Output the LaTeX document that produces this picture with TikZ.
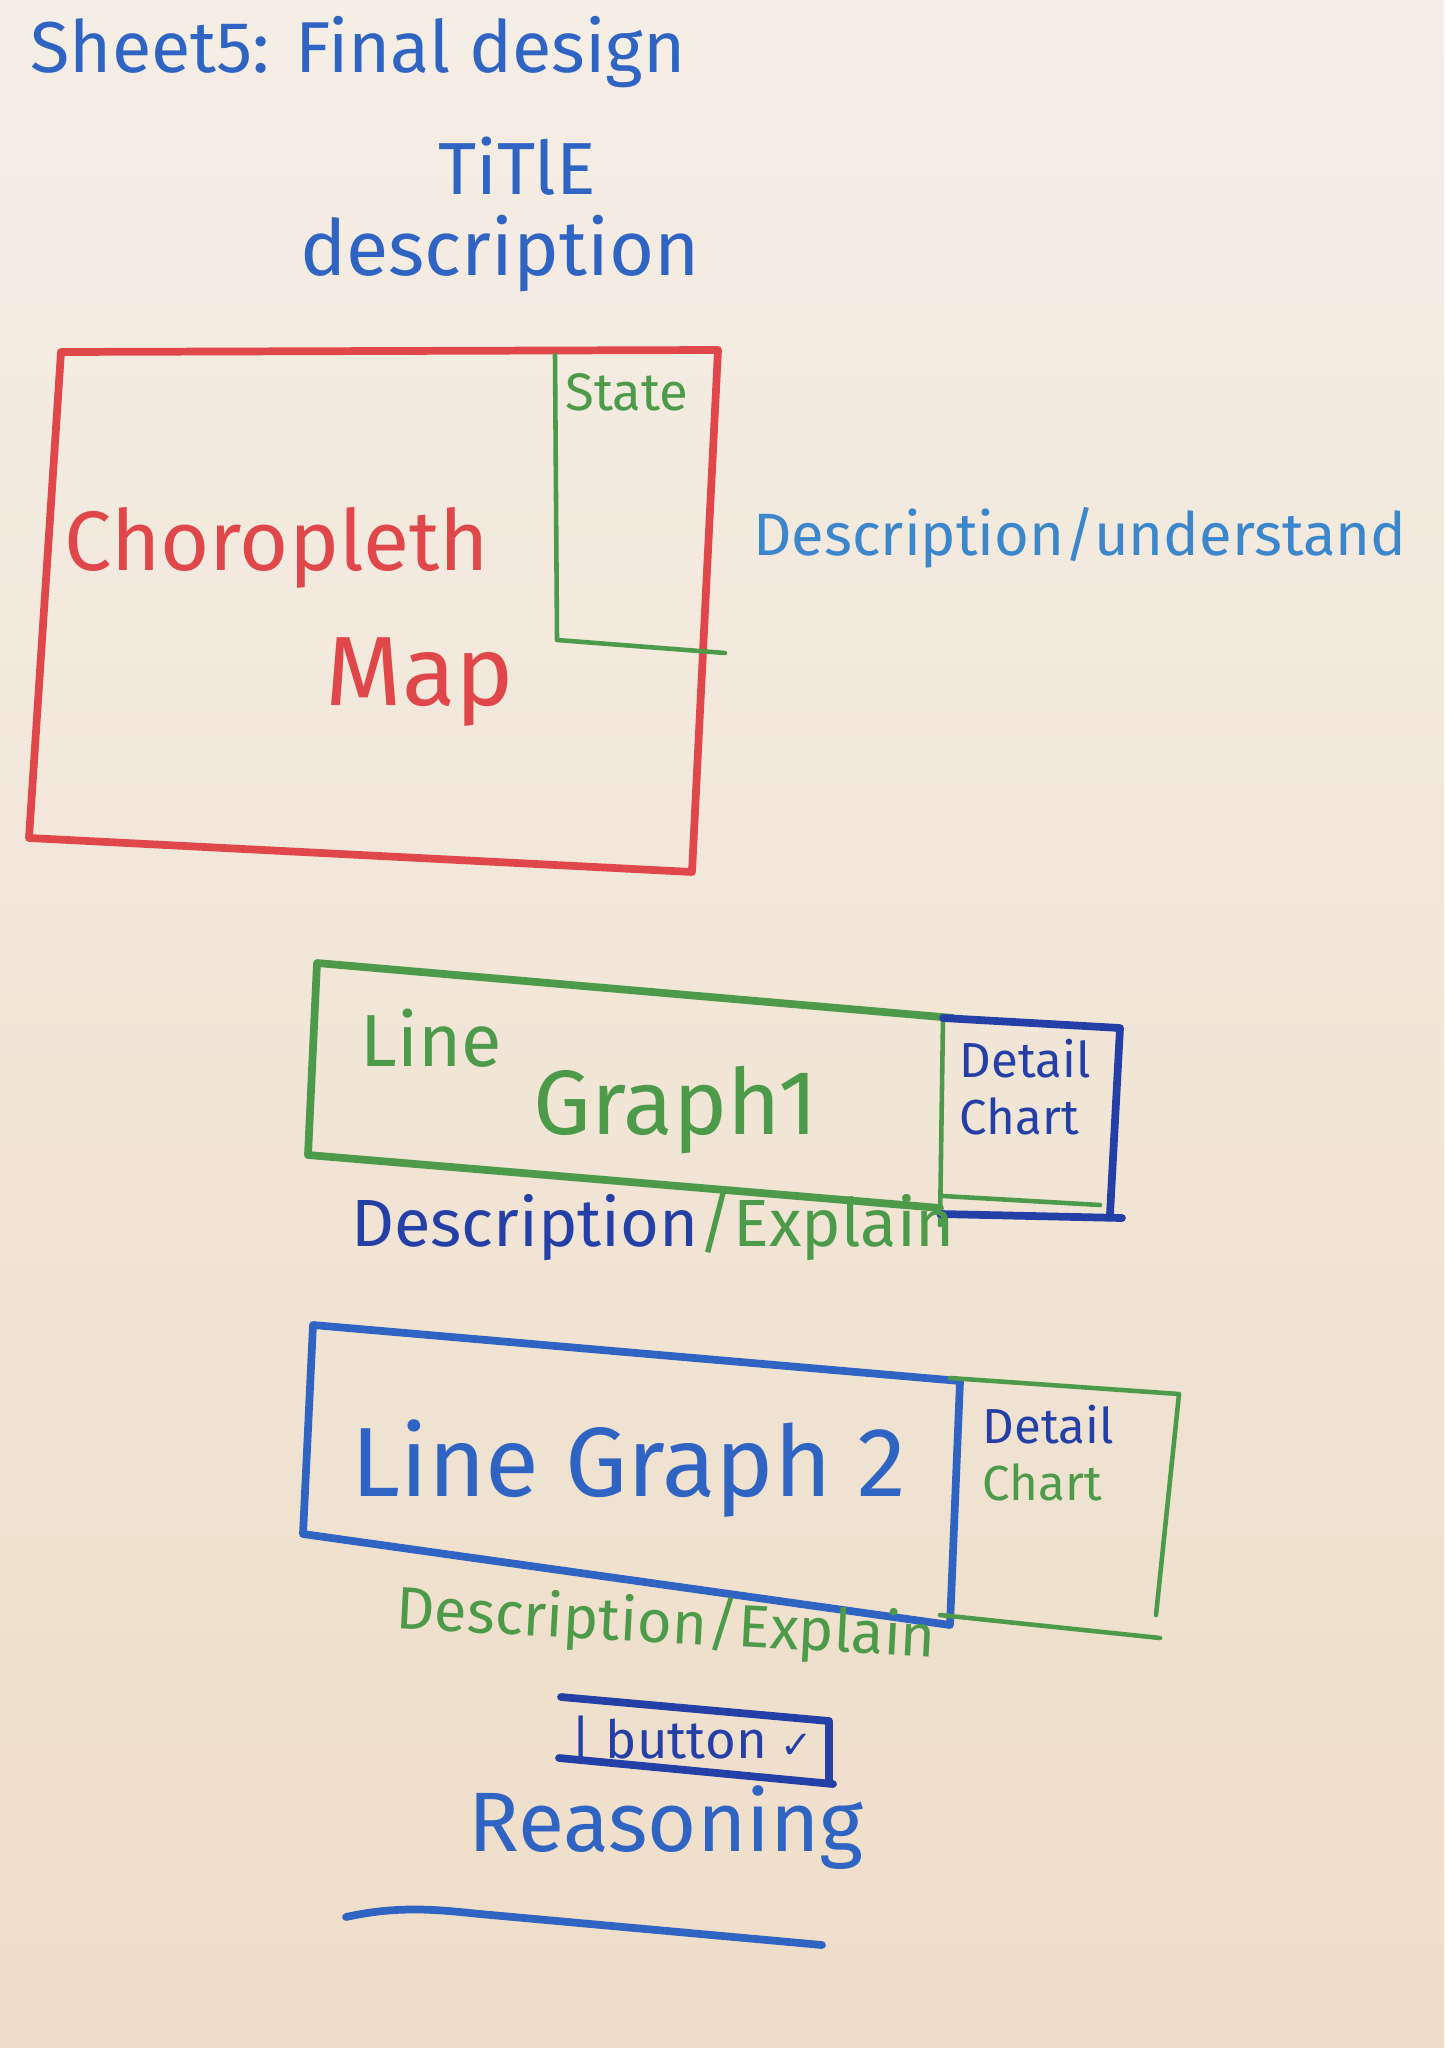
\documentclass[tikz,border=0pt]{standalone}
\usepackage{fontspec}
\setmainfont{Fira Sans}
\newfontfamily\symfont{DejaVu Sans}
\definecolor{papertop}{HTML}{F5EEE6}
\definecolor{paperbot}{HTML}{EEDDC8}
\definecolor{inkred}{HTML}{E0474A}
\definecolor{inkgreen}{HTML}{4C9A4A}
\definecolor{inkblue}{HTML}{2F64C2}
\definecolor{inklight}{HTML}{3C86CC}
\definecolor{inkdark}{HTML}{2440A6}
\newcommand{\fs}[1]{\fontsize{#1}{1.15\dimexpr#1pt\relax}\selectfont}

\begin{document}
\begin{tikzpicture}[x=0.1mm,y=-0.1mm,line cap=round,line join=round,
  marker/.style={line width=2.2pt},
  thinmarker/.style={line width=1.3pt},
  hand/.style={inner sep=0pt,anchor=center}]
 \shade[top color=papertop,bottom color=paperbot] (0,0) rectangle (1444,2048);
 \useasboundingbox (0,0) rectangle (1444,2048);
 % header
 \node[hand,inkblue,font=\fs{20.5}] (sheet) at (358,52) {Sheet5: Final design};
 \node[hand,inkblue,font=\fs{21}] (title) at (517,166) {TiTlE};
 \node[hand,inkblue,font=\fs{22}] (desc) at (500,254) {description};
 % choropleth map
 \draw[marker,inkred] (61,352) -- (718,350) -- (692,872) -- (29,838) -- cycle;
 \draw[thinmarker,inkgreen] (555,355) -- (557,640) -- (725,653);
 \node[hand,inkgreen,font=\fs{15}] (state) at (627,392) {State};
 \node[hand,inkred,font=\fs{24}] (choro) at (277,548) {Choropleth};
 \node[hand,inkred,font=\fs{28}] (map) at (420,682) {Map};
 \node[hand,inklight,font=\fs{17}] (mapdesc) at (1080,538) {Description/understand};
 % line graph 1
 \draw[marker,inkgreen] (953,1018) -- (317,963) -- (308,1155) -- (940,1208);
 \draw[thinmarker,inkgreen] (943,1018) -- (940,1225);
 \draw[thinmarker,inkgreen] (943,1196) -- (1100,1205);
 \draw[marker,inkdark] (943,1018) -- (1120,1028) -- (1110,1214);
 \draw[marker,inkdark] (940,1214) -- (1122,1218);
 \node[hand,inkgreen,font=\fs{21}] (lineone) at (431,1038) {Line};
 \node[hand,inkgreen,font=\fs{26}] (graphone) at (676,1110) {Graph1};
 \node[hand,inkdark,font=\fs{14},align=left] (detailone) at (1025,1087) {Detail\\Chart};
 \node[hand,font=\fs{19}] (explone) at (653,1227) {{\color{inkdark}Description}{\color{inkgreen}/Explain}};
 % line graph 2
 \draw[marker,inkblue] (313,1325) -- (960,1381) -- (950,1625) -- (303,1534) -- cycle;
 \draw[thinmarker,inkgreen] (950,1378) -- (1179,1394) -- (1156,1615);
 \draw[thinmarker,inkgreen] (940,1615) -- (1160,1638);
 \node[hand,inkblue,font=\fs{28}] (graphtwo) at (629,1469) {Line Graph 2};
 \node[hand,font=\fs{14},align=left] (detailtwo) at (1048,1453) {{\color{inkdark}Detail}\\{\color{inkgreen}Chart}};
 \node[hand,inkgreen,font=\fs{17},rotate=-3] (expltwo) at (666,1625) {Description/Explain};
 % button and reasoning
 \draw[marker,inkdark] (561,1697) -- (829,1721) -- (829,1782);
 \draw[marker,inkdark] (559,1758) -- (833,1784);
 \node[hand,inkdark,font=\fs{15}] (button) at (692,1740) {| button {\symfont\fs{11}✓}};
 \node[hand,inkblue,font=\fs{24}] (reason) at (666,1828) {Reasoning};
 \draw[marker,inkblue] (346,1917) .. controls (400,1905) and (440,1910) .. (480,1914) -- (822,1945);
\end{tikzpicture}
\end{document}
